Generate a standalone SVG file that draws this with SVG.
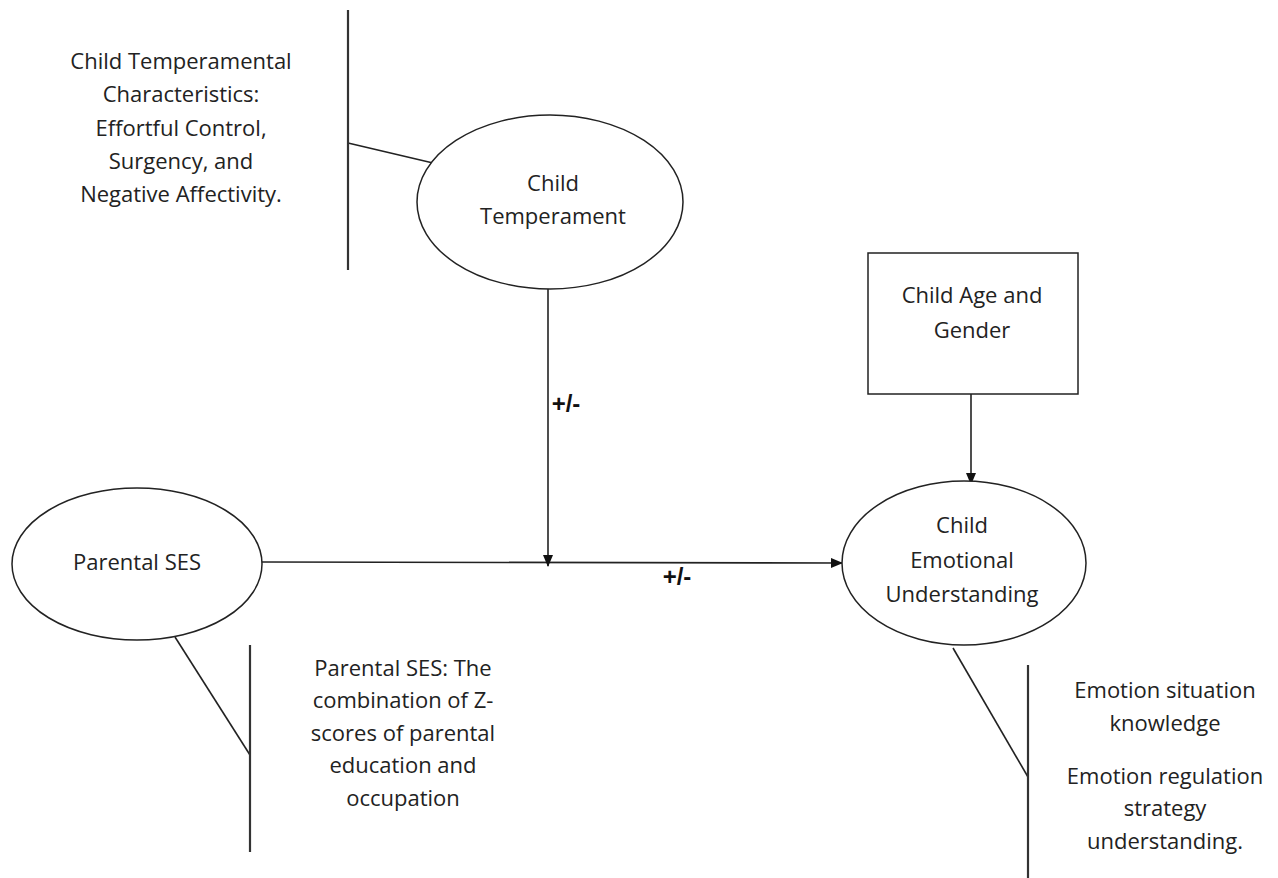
<svg xmlns="http://www.w3.org/2000/svg" width="1278" height="878" viewBox="0 0 1278 878">
<defs>
<marker id="arr" markerWidth="12" markerHeight="10" refX="11" refY="5" orient="auto" markerUnits="userSpaceOnUse">
<path d="M0,0 L12,5 L0,10 Z" fill="#111"/>
</marker>
<style>
.t{font-family:"Open Sans","Noto Sans","Liberation Sans",sans-serif;font-size:22px;fill:#222;text-anchor:middle;dominant-baseline:middle}
.b{font-family:"Liberation Sans",Arial,sans-serif;font-size:24px;font-weight:bold;fill:#111;text-anchor:middle;dominant-baseline:middle}
.s{fill:#fff;stroke:#222;stroke-width:1.5}
.l{stroke:#222;stroke-width:1.6;fill:none}
.v{stroke:#333;stroke-width:2.2;fill:none}
</style>
</defs>
<rect width="1278" height="878" fill="#fff"/>
<g id="connectors">
<line class="l" x1="262" y1="562" x2="842" y2="563" marker-end="url(#arr)"/>
<line class="l" x1="548" y1="289" x2="548" y2="566" marker-end="url(#arr)"/>
<line class="l" x1="971" y1="394" x2="971" y2="484" marker-end="url(#arr)"/>
<line class="l" x1="348" y1="143" x2="433" y2="163"/>
<line class="l" x1="175" y1="637" x2="250" y2="755"/>
<line class="l" x1="953" y1="648" x2="1028" y2="777"/>
<text class="b" x="566" y="406">+/-</text>
<text class="b" x="677" y="579">+/-</text>
</g>
<g id="temperament-note">
<line class="v" x1="348" y1="10" x2="348" y2="270"/>
<text class="t" x="181" y="63">Child Temperamental</text>
<text class="t" x="181" y="96">Characteristics:</text>
<text class="t" x="181" y="130">Effortful Control,</text>
<text class="t" x="181" y="163">Surgency, and</text>
<text class="t" x="181" y="196">Negative Affectivity.</text>
</g>
<g id="child-temperament">
<ellipse class="s" cx="550" cy="202" rx="133" ry="87"/>
<text class="t" x="553" y="185">Child</text>
<text class="t" x="553" y="218">Temperament</text>
</g>
<g id="child-age-gender">
<rect class="s" x="868" y="253" width="210" height="141"/>
<text class="t" x="972" y="297">Child Age and</text>
<text class="t" x="972" y="332">Gender</text>
</g>
<g id="parental-ses">
<ellipse class="s" cx="137" cy="564" rx="125" ry="76"/>
<text class="t" x="137" y="564">Parental SES</text>
</g>
<g id="emotional-understanding">
<ellipse class="s" cx="964" cy="563" rx="122" ry="82"/>
<text class="t" x="962" y="527">Child</text>
<text class="t" x="962" y="562">Emotional</text>
<text class="t" x="962" y="596">Understanding</text>
</g>
<g id="ses-note">
<line class="v" x1="250" y1="645" x2="250" y2="852"/>
<text class="t" x="403" y="670">Parental SES: The</text>
<text class="t" x="403" y="702">combination of Z-</text>
<text class="t" x="403" y="735">scores of parental</text>
<text class="t" x="403" y="767">education and</text>
<text class="t" x="403" y="800">occupation</text>
</g>
<g id="eu-note">
<line class="v" x1="1028" y1="665" x2="1028" y2="878"/>
<text class="t" x="1165" y="692">Emotion situation</text>
<text class="t" x="1165" y="725">knowledge</text>
<text class="t" x="1165" y="778">Emotion regulation</text>
<text class="t" x="1165" y="810">strategy</text>
<text class="t" x="1165" y="843">understanding.</text>
</g>
</svg>
